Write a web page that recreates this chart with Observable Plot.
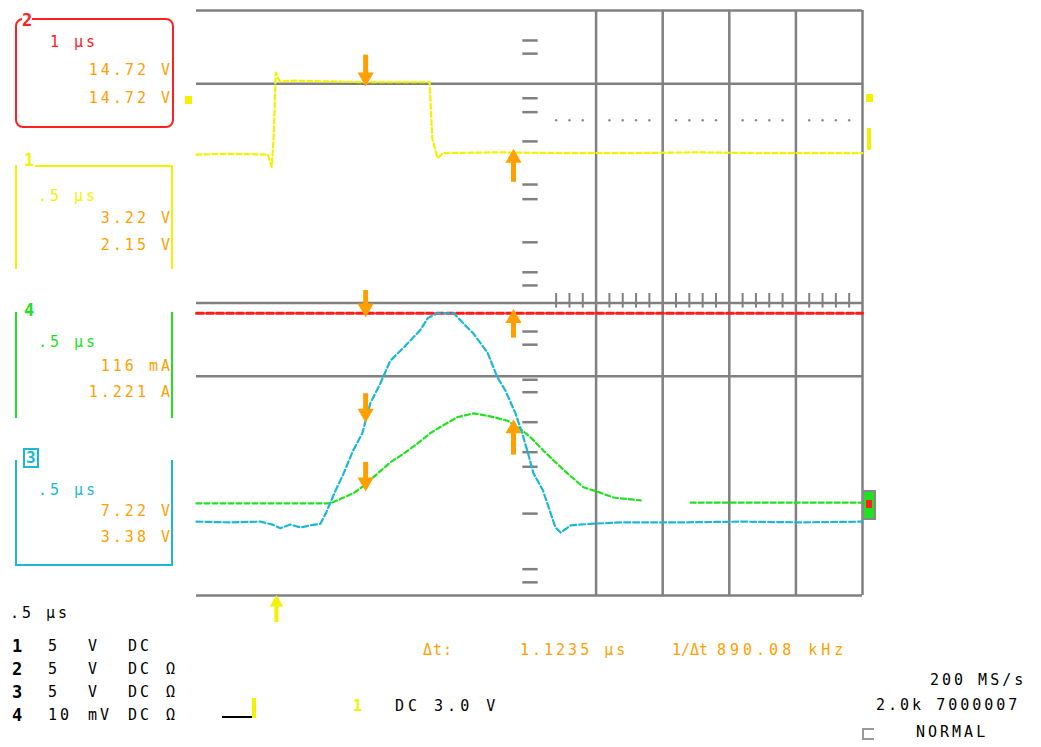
<!DOCTYPE html>
<html><head><meta charset="utf-8">
<script src="https://cdn.jsdelivr.net/npm/d3@7"></script>
<script src="https://cdn.jsdelivr.net/npm/@observablehq/plot@0.6"></script>
<style>
body{margin:0;background:#fff;}
#wrap{position:relative;width:1041px;height:747px;overflow:hidden;font-family:"DejaVu Sans Mono",monospace;background:#fff;}
#chart{position:absolute;left:0;top:0;}
.t{position:absolute;white-space:pre;font-size:15px;line-height:16px;letter-spacing:3px;}
.box{position:absolute;box-sizing:border-box;}
.or{color:#ffa000;}
</style></head><body><div id="wrap"><div id="chart"></div>

<!-- channel 2 box (red) -->
<div class="box" style="left:15px;top:18px;width:159px;height:110px;border:2px solid #ff2020;border-radius:8px;"></div>
<div class="t" style="left:22px;top:12px;color:#ff2020;font-weight:bold;font-size:17px;background:#fff;letter-spacing:0">2</div>
<div class="t" style="left:50px;top:34px;color:#ff2020">1 μs</div>
<div class="t or" style="right:868px;top:62px">14.72 V</div>
<div class="t or" style="right:868px;top:90px">14.72 V</div>

<!-- channel 1 box (yellow) -->
<div class="box" style="left:15px;top:165px;width:158px;height:104px;border-left:2px solid #f2f200;border-right:2px solid #f2f200;"></div>
<div class="box" style="left:35px;top:165px;width:136px;height:2px;background:#f2f200;"></div>
<div class="t" style="left:24px;top:152px;color:#f2f200;font-weight:bold;font-size:17px;letter-spacing:0">1</div>
<div class="t" style="left:38px;top:188px;color:#f2f200">.5 μs</div>
<div class="t or" style="right:868px;top:210px">3.22 V</div>
<div class="t or" style="right:868px;top:237px">2.15 V</div>

<!-- channel 4 box (green) -->
<div class="box" style="left:15px;top:312px;width:158px;height:106px;border-left:2px solid #22e022;border-right:2px solid #22e022;"></div>
<div class="t" style="left:24px;top:302px;color:#22e022;font-weight:bold;font-size:17px;letter-spacing:0">4</div>
<div class="t" style="left:38px;top:334px;color:#22e022">.5 μs</div>
<div class="t or" style="right:868px;top:358px">116 mA</div>
<div class="t or" style="right:868px;top:384px">1.221 A</div>

<!-- channel 3 box (cyan) -->
<div class="box" style="left:15px;top:460px;width:158px;height:106px;border-left:2px solid #1ab8d4;border-right:2px solid #1ab8d4;border-bottom:2px solid #1ab8d4;"></div>
<div class="t" style="left:23px;top:448px;color:#1ab8d4;font-weight:bold;font-size:16px;letter-spacing:0;border:2px solid #1ab8d4;padding:0 1px;background:#fff">3</div>
<div class="t" style="left:38px;top:482px;color:#1ab8d4">.5 μs</div>
<div class="t or" style="right:868px;top:503px">7.22 V</div>
<div class="t or" style="right:868px;top:529px">3.38 V</div>

<!-- bottom left -->
<div class="t" style="left:10px;top:605px;color:#000">.5 μs</div>
<div id="chrows"></div>

<!-- trigger -->
<div class="box" style="left:222px;top:716px;width:30px;height:2px;background:#000"></div>
<div class="box" style="left:252px;top:698px;width:4px;height:20px;background:#f2f200"></div>
<div class="t" style="left:353px;top:698px;color:#f2f200;font-weight:bold">1</div>
<div class="t" style="left:395px;top:698px;color:#000;letter-spacing:4px">DC 3.0 V</div>

<!-- cursor readout -->
<div class="t or" style="left:423px;top:642px;letter-spacing:1px">Δt:</div>
<div class="t or" style="left:520px;top:642px">1.1235 μs</div>
<div class="t or" style="left:672px;top:642px;letter-spacing:0">1/Δt</div>
<div class="t or" style="left:717px;top:642px;letter-spacing:4px">890.08 kHz</div>

<!-- bottom right -->
<div class="t" style="left:930px;top:672px;color:#000">200 MS/s</div>
<div class="t" style="left:876px;top:697px;color:#000">2.0k 7000007</div>
<div class="box" style="left:862px;top:728px;width:12px;height:12px;border:2px solid #999;border-right:none"></div>
<div class="t" style="left:916px;top:724px;color:#000">NORMAL</div>

<!-- edge markers -->
<div class="box" style="left:185px;top:96px;width:7px;height:8px;background:#f2f200"></div>
<div class="box" style="left:866px;top:94px;width:7px;height:8px;background:#f2f200"></div>
<div class="box" style="left:867px;top:128px;width:4px;height:22px;background:#f2f200"></div>
<div class="box" style="left:862px;top:490px;width:14px;height:30px;background:#22e022;border:2px solid #888"></div>
<div class="box" style="left:866px;top:500px;width:6px;height:8px;background:#ff2020"></div>
</div>
<script>
// grid (divisions)
const hGrid = [0, 3, 4, 7, 8];
const vGrid = [6, 7, 8, 9, 10];
const centerTicks = [7.59, 7.41, 6.80, 6.61, 6.21, 5.62, 5.42, 4.83, 4.42, 4.24, 3.61, 3.43, 2.95, 2.78, 2.37, 1.96, 1.76, 1.12, 0.36, 0.18];
const minorTicksX = [5.4, 5.6, 5.8, 6.2, 6.4, 6.6, 6.8, 7.2, 7.4, 7.6, 7.8, 8.2, 8.4, 8.6, 8.8, 9.2, 9.4, 9.6, 9.8];

// traces (time in divisions, amplitude in divisions)
const yellowX = [0, 0.5, 1.07, 1.13, 1.16, 1.19, 1.25, 1.5, 2.0, 2.5, 3.0, 3.5, 3.54, 3.62, 3.7, 4.5, 5.5, 6.5, 7.5, 8.5, 10];
const yellowY = [6.03, 6.04, 6.03, 5.86, 6.3, 7.15, 7.03, 7.04, 7.03, 7.02, 7.02, 7.02, 6.25, 5.98, 6.05, 6.06, 6.05, 6.05, 6.06, 6.05, 6.05];

const redX = [0, 2, 4, 6, 8, 10];
const redY = [3.86, 3.86, 3.86, 3.86, 3.86, 3.86];

const cyanX = [0, 0.51, 0.96, 1.14, 1.26, 1.41, 1.56, 1.71, 1.86, 1.94, 2.09, 2.21, 2.34, 2.49, 2.61, 2.76, 2.91, 3.11, 3.36, 3.48, 3.62, 3.86, 4.01, 4.16, 4.37, 4.52, 4.64, 4.79, 4.89, 4.98, 5.06, 5.20, 5.29, 5.39, 5.47, 5.62, 5.92, 6.37, 7.27, 8.17, 9.07, 10];
const cyanY = [1.01, 1.0, 1.01, 0.97, 0.92, 0.97, 0.93, 0.96, 0.98, 1.12, 1.44, 1.67, 1.96, 2.22, 2.63, 2.90, 3.21, 3.39, 3.63, 3.80, 3.86, 3.86, 3.72, 3.58, 3.32, 2.98, 2.80, 2.49, 2.22, 1.94, 1.67, 1.44, 1.20, 0.93, 0.86, 0.96, 0.98, 1.0, 1.0, 1.01, 1.0, 1.01];

const greenX = [0, 2.01, 2.21, 2.36, 2.51, 2.72, 2.91, 3.11, 3.32, 3.51, 3.71, 3.92, 4.16, 4.41, 4.67, 4.86, 5.02, 5.21, 5.36, 5.57, 5.81, 6.02, 6.26, 6.67, 7.0, 7.42, 10];
const greenY = [1.26, 1.26, 1.34, 1.40, 1.50, 1.67, 1.82, 1.94, 2.08, 2.22, 2.33, 2.44, 2.49, 2.45, 2.39, 2.28, 2.16, 1.98, 1.85, 1.67, 1.48, 1.42, 1.34, 1.30, null, 1.27, 1.27];

// cursors
const cursorX = [2.54, 4.76, 2.54, 4.76, 2.54, 2.54, 4.76];
const cursorTip = [7.02, 6.05, 3.86, 3.86, 2.42, 1.48, 2.35];
const cursorTail = [7.39, 5.65, 4.17, 3.52, 2.76, 1.82, 1.92];
const triggerX = [1.2];

// channel setup rows
const chNum = ["1", "2", "3", "4"];
const chScale = ["5", "5", "5", "10"];
const chUnit = ["V", "V", "V", "mV"];
const chCoupling = ["DC", "DC", "DC", "DC"];
const chImp = ["", "Ω", "Ω", "Ω"];

const rows = document.getElementById("chrows");
chNum.forEach((n, i) => {
  const top = 638 + i * 23;
  const cols = [[12, n, "font-weight:bold;font-size:17px;letter-spacing:0"], [48, chScale[i], ""], [88, chUnit[i], ""], [128, chCoupling[i], ""], [166, chImp[i], ""]];
  cols.forEach(([l, s, st]) => {
    const d = document.createElement("div");
    d.className = "t";
    d.style.cssText = `left:${l}px;top:${top}px;color:#000;${st}`;
    d.textContent = s;
    rows.appendChild(d);
  });
});

const tr = (X, Y) => X.map((x, i) => ({x, y: Y[i]}));
const cursors = cursorX.map((x, i) => ({x, tip: cursorTip[i], tail: cursorTail[i]}));
const ORANGE = "#ffa000";
const GRAY = "#808080";

const chart = Plot.plot({
  width: 1041, height: 747,
  marginLeft: 196, marginRight: 179, marginTop: 10, marginBottom: 152,
  x: {domain: [0, 10], axis: null},
  y: {domain: [0, 8], axis: null},
  style: {background: "transparent", overflow: "visible"},
  marks: [
    Plot.ruleY(hGrid, {stroke: GRAY, strokeWidth: 2.5}),
    Plot.ruleX(vGrid, {stroke: GRAY, strokeWidth: 2.5}),
    Plot.ruleY(centerTicks, {x1: 4.9, x2: 5.13, stroke: GRAY, strokeWidth: 2.5}),
    Plot.ruleX(minorTicksX, {y1: 3.93, y2: 4.13, stroke: GRAY, strokeWidth: 2}),
    Plot.dot(minorTicksX, {x: d => d, y: 6.5, r: 1.2, fill: "#888", stroke: "none"}),
    Plot.line(tr(redX, redY), {x: "x", y: "y", stroke: "#ff1a1a", strokeWidth: 3, strokeDasharray: "7,3"}),
    Plot.line(tr(yellowX, yellowY), {x: "x", y: "y", stroke: "#f2f200", strokeWidth: 2.2, strokeDasharray: "5,3", curve: "linear"}),
    Plot.line(tr(greenX, greenY), {x: "x", y: "y", stroke: "#22e022", strokeWidth: 2.2, strokeDasharray: "5,3"}),
    Plot.line(tr(cyanX, cyanY), {x: "x", y: "y", stroke: "#1ab8d4", strokeWidth: 2.2, strokeDasharray: "6,3"}),
    Plot.ruleX(cursors, {x: "x", y1: "tail", y2: "tip", stroke: ORANGE, strokeWidth: 5}),
    Plot.dot(cursors.filter(d => d.tip < d.tail), {x: "x", y: "tip", symbol: "triangle", r: 6, rotate: 180, dy: -5, fill: ORANGE, stroke: "none"}),
    Plot.dot(cursors.filter(d => d.tip > d.tail), {x: "x", y: "tip", symbol: "triangle", r: 6, rotate: 0, dy: 5, fill: ORANGE, stroke: "none"}),
    Plot.ruleX(triggerX, {x: d => d, y1: -0.37, y2: -0.05, stroke: "#f2f200", strokeWidth: 4}),
    Plot.dot(triggerX, {x: d => d, y: -0.03, symbol: "triangle", r: 5, dy: 5, fill: "#f2f200", stroke: "none"})
  ]
});
document.getElementById("chart").appendChild(chart);
</script></body></html>
